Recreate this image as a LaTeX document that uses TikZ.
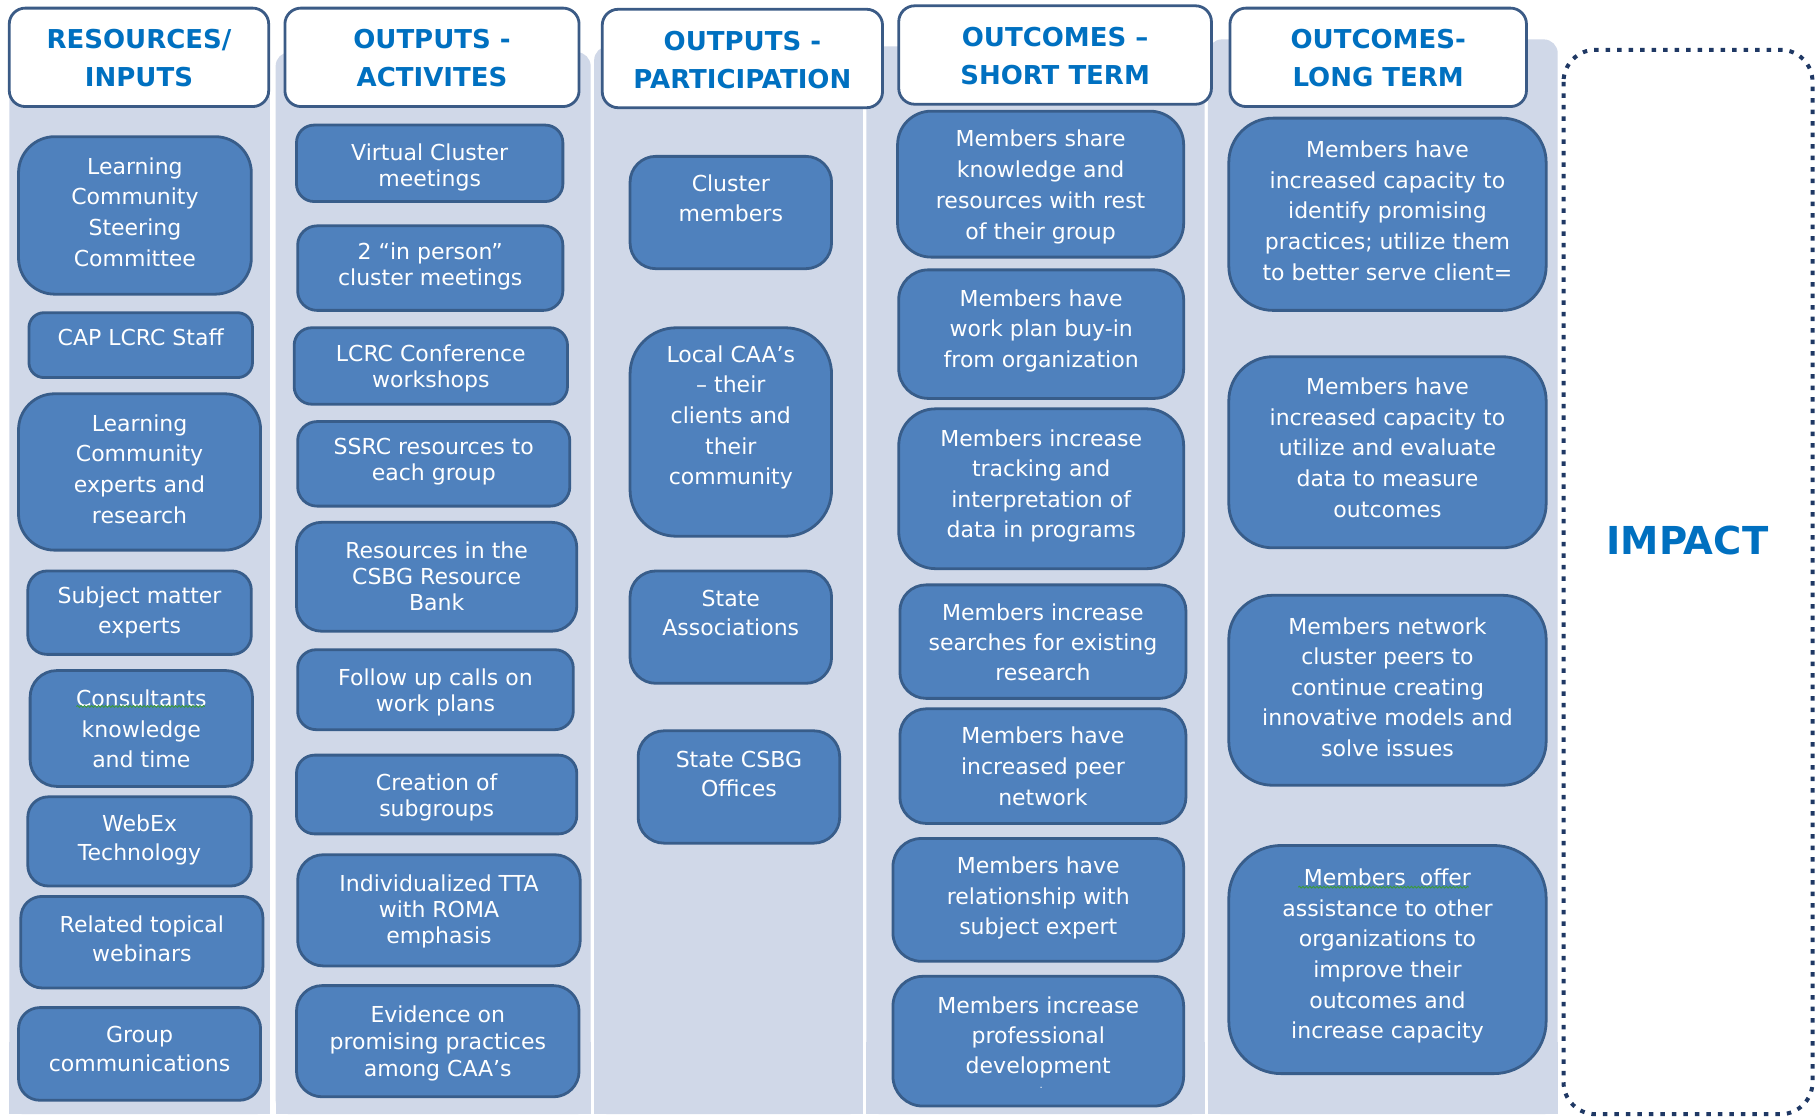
\documentclass[tikz,border=0pt]{standalone}
\usepackage{fontspec}
\setmainfont{DejaVu Sans}
\usetikzlibrary{decorations.pathmorphing}
\definecolor{panelc}{HTML}{D0D8E8}
\definecolor{boxfill}{HTML}{4F81BD}
\definecolor{boxline}{HTML}{385D8A}
\definecolor{headtxt}{HTML}{0070C0}
\definecolor{headline}{HTML}{3B5B86}
\definecolor{impactline}{HTML}{1F3864}
\definecolor{spellgreen}{HTML}{3C9A3C}
\tikzset{
  panel/.style={fill=panelc},
  bluebox/.style={draw=boxline, fill=boxfill, line width=2.8pt},
  boxtext/.style={text=white, align=center, inner sep=0pt},
  headframe/.style={draw=headline, fill=white, line width=2.8pt, rounded corners=16pt},
  headtext/.style={text=headtxt, align=center, inner sep=0pt, font=\fontsize{26}{38}\selectfont\bfseries},
  impactframe/.style={draw=impactline, line width=4pt, dash pattern=on 4.5pt off 7pt, rounded corners=32pt},
  spell/.style={draw=spellgreen, line width=0.9pt, decorate, decoration={snake, amplitude=0.9pt, segment length=3.5pt}}
}
% name, x1, y1, x2, y2, baselineskip, dy, text
\newcommand\lmbox[8]{%
  \pgfmathsetmacro\lmw{(#4-#2)*1.1582}%
  \pgfmathsetmacro\lmh{(#5-#3)*1.1582}%
  \pgfmathsetmacro\lmr{min(\lmw,\lmh)*0.23}%
  \path[bluebox, rounded corners=\lmr pt] (#2,#3) rectangle (#4,#5);
  \node[boxtext, font=\fontsize{22}{#6}\selectfont] (#1) at ({(#2+#4)/2},{(#3+#5)/2+#7}) {#8};
}
\newcommand\lmhead[6]{%
  \path[headframe] (#2,#3) rectangle (#4,#5);
  \node[headtext] (#1) at ({(#2+#4)/2},{(#3+#5)/2+1}) {#6};
}
\begin{document}
\begin{tikzpicture}[x=1.1582pt,y=-1.1582pt]
\useasboundingbox[fill=white] (0,0) rectangle (1568,964);
% column panels
\fill[panel, rounded corners=14pt] (8,36) rectangle (233,962);
\fill[panel] (8,900) rectangle (233,962);
\fill[panel, rounded corners=14pt] (238,45) rectangle (510,962);
\fill[panel] (238,900) rectangle (510,962);
\fill[panel, rounded corners=14pt] (513,40) rectangle (745,962);
\fill[panel] (513,900) rectangle (745,962);
\fill[panel, rounded corners=14pt] (748,40) rectangle (1040,962);
\fill[panel] (748,900) rectangle (1040,962);
\fill[panel, rounded corners=14pt] (1043,34) rectangle (1345,962);
\fill[panel] (1043,900) rectangle (1345,962);
% headers
\lmhead{h1}{8}{7}{232}{92}{RESOURCES/\\INPUTS}
\lmhead{h2}{246}{7}{500}{92}{OUTPUTS -\\ACTIVITES}
\lmhead{h3}{520}{8}{762}{93}{OUTPUTS -\\PARTICIPATION}
\lmhead{h4}{776}{5}{1046}{90}{OUTCOMES –\\SHORT TERM}
\lmhead{h5}{1062}{7}{1318}{92}{OUTCOMES-\\LONG TERM}
% column 1
\lmbox{r1}{16}{118}{217}{254}{30.7}{-3}{Learning\\Community\\Steering\\Committee}
\lmbox{r2}{25}{270}{218}{326}{30}{-6.5}{CAP LCRC Staff}
\lmbox{r3}{16}{340}{225}{475}{30.7}{-2.5}{Learning\\Community\\experts and\\research}
\lmbox{r4}{24}{493}{217}{565}{30}{0}{Subject matter\\experts}
\lmbox{r5}{26}{579}{218}{679}{30.7}{0.5}{Consultants\\knowledge\\and time}
\lmbox{r6}{24}{688}{217}{765}{29}{-1}{WebEx\\Technology}
\lmbox{r7}{18}{774}{227}{853}{29}{-3}{Related topical\\webinars}
\lmbox{r8}{16}{870}{225}{950}{29}{-4.5}{Group\\communications}
% column 2
\lmbox{a1}{256}{108}{486}{174}{26}{3.5}{Virtual Cluster\\meetings}
\lmbox{a2}{257}{195}{486}{268}{26}{-1.5}{2 “in person”\\cluster meetings}
\lmbox{a3}{254}{283}{490}{349}{26}{2}{LCRC Conference\\workshops}
\lmbox{a4}{257}{364}{492}{437}{26}{-1.5}{SSRC resources to\\each group}
\lmbox{a5}{256}{451}{498}{545}{26}{0}{Resources in the\\CSBG Resource\\Bank}
\lmbox{a6}{257}{561}{495}{630}{26}{2.5}{Follow up calls on\\work plans}
\lmbox{a7}{256}{652}{498}{720}{26}{2.5}{Creation of\\subgroups}
\lmbox{a8}{257}{738}{501}{834}{26}{1}{Individualized TTA\\with ROMA\\emphasis}
\lmbox{a9}{256}{851}{500}{947}{27}{1.5}{Evidence on\\promising practices\\among CAA’s}
% column 3
\lmbox{p1}{544}{135}{718}{232}{30}{-12}{Cluster\\members}
\lmbox{p2}{544}{283}{718}{463}{30.7}{-12.5}{Local CAA’s\\– their\\clients and\\their\\community}
\lmbox{p3}{544}{493}{718}{590}{29}{-12}{State\\Associations}
\lmbox{p4}{551}{631}{725}{728}{29}{-11.5}{State CSBG\\Offices}
% column 4
\lmbox{c1}{775}{96}{1022}{222}{30.9}{2.5}{Members share\\knowledge and\\resources with rest\\of their group}
\lmbox{c2}{776}{233}{1022}{344}{30.7}{-3}{Members have\\work plan buy-in\\from organization}
\lmbox{c3}{776}{353}{1022}{491}{30.5}{-2.5}{Members increase\\tracking and\\interpretation of\\data in programs}
\lmbox{c4}{777}{505}{1024}{603}{30}{1}{Members increase\\searches for existing\\research}
\lmbox{c5}{777}{612}{1024}{711}{30.7}{0}{Members have\\increased peer\\network}
\lmbox{c6}{771}{724}{1022}{830}{30.7}{-1.5}{Members have\\relationship with\\subject expert}
\lmbox{c7}{771}{843}{1022}{955}{30}{-3}{Members increase\\professional\\development}
\node[boxtext, font=\fontsize{10}{10}\selectfont] (c7dot) at (899,939) {.};
% column 5
\lmbox{l1}{1061}{102}{1335}{268}{30.7}{-3}{Members have\\increased capacity to\\identify promising\\practices; utilize them\\to better serve client=}
\lmbox{l2}{1061}{308}{1335}{473}{30.7}{-4}{Members have\\increased capacity to\\utilize and evaluate\\data to measure\\outcomes}
\lmbox{l3}{1061}{514}{1335}{678}{30.5}{-3}{Members network\\cluster peers to\\continue creating\\innovative models and\\solve issues}
\lmbox{l4}{1061}{730}{1335}{927}{30.7}{-3}{Members\ \ offer\\assistance to other\\organizations to\\improve their\\outcomes and\\increase capacity}
% spell-check marks
\draw[spell] (66,610) -- (177,610);
\draw[spell] (1121,766) -- (1268,766);
% impact
\path[impactframe] (1350,43) rectangle (1565,962);
\node[text=headtxt, font=\fontsize{38.5}{40}\selectfont\bfseries, inner sep=0pt] (impact) at (1457,467) {IMPACT};
\end{tikzpicture}
\end{document}
